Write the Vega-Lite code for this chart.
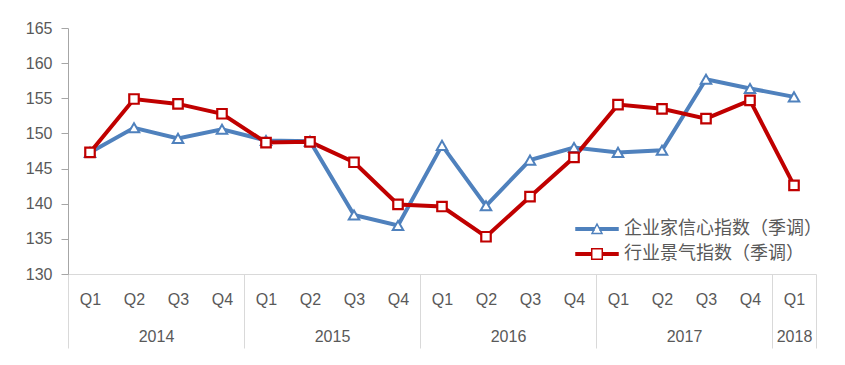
{
  "$schema": "https://vega.github.io/schema/vega-lite/v6.json",
  "width": 748,
  "height": 246,
  "autosize": "none",
  "padding": {"left": 68, "top": 28, "right": 29, "bottom": 91},
  "background": "white",
  "config": {"view": {"stroke": null}, "font": "Liberation Sans"},
  "data": {
    "values": [
      {"i": 0, "s": "企业家信心指数（季调）", "v": 147.3},
      {"i": 1, "s": "企业家信心指数（季调）", "v": 150.8},
      {"i": 2, "s": "企业家信心指数（季调）", "v": 149.3},
      {"i": 3, "s": "企业家信心指数（季调）", "v": 150.6},
      {"i": 4, "s": "企业家信心指数（季调）", "v": 149.0},
      {"i": 5, "s": "企业家信心指数（季调）", "v": 148.9},
      {"i": 6, "s": "企业家信心指数（季调）", "v": 138.4},
      {"i": 7, "s": "企业家信心指数（季调）", "v": 136.9},
      {"i": 8, "s": "企业家信心指数（季调）", "v": 148.3},
      {"i": 9, "s": "企业家信心指数（季调）", "v": 139.7},
      {"i": 10, "s": "企业家信心指数（季调）", "v": 146.2},
      {"i": 11, "s": "企业家信心指数（季调）", "v": 148.0},
      {"i": 12, "s": "企业家信心指数（季调）", "v": 147.3},
      {"i": 13, "s": "企业家信心指数（季调）", "v": 147.6},
      {"i": 14, "s": "企业家信心指数（季调）", "v": 157.7},
      {"i": 15, "s": "企业家信心指数（季调）", "v": 156.4},
      {"i": 16, "s": "企业家信心指数（季调）", "v": 155.2},
      {"i": 0, "s": "行业景气指数（季调）", "v": 147.3},
      {"i": 1, "s": "行业景气指数（季调）", "v": 154.9},
      {"i": 2, "s": "行业景气指数（季调）", "v": 154.2},
      {"i": 3, "s": "行业景气指数（季调）", "v": 152.8},
      {"i": 4, "s": "行业景气指数（季调）", "v": 148.7},
      {"i": 5, "s": "行业景气指数（季调）", "v": 148.8},
      {"i": 6, "s": "行业景气指数（季调）", "v": 145.9},
      {"i": 7, "s": "行业景气指数（季调）", "v": 139.9},
      {"i": 8, "s": "行业景气指数（季调）", "v": 139.6},
      {"i": 9, "s": "行业景气指数（季调）", "v": 135.3},
      {"i": 10, "s": "行业景气指数（季调）", "v": 141.0},
      {"i": 11, "s": "行业景气指数（季调）", "v": 146.6},
      {"i": 12, "s": "行业景气指数（季调）", "v": 154.1},
      {"i": 13, "s": "行业景气指数（季调）", "v": 153.5},
      {"i": 14, "s": "行业景气指数（季调）", "v": 152.1},
      {"i": 15, "s": "行业景气指数（季调）", "v": 154.7},
      {"i": 16, "s": "行业景气指数（季调）", "v": 142.6}
    ]
  },
  "encoding": {
    "y": {
      "field": "v",
      "type": "quantitative",
      "scale": {"domain": [130, 165], "nice": false, "zero": false},
      "axis": {
        "values": [130, 135, 140, 145, 150, 155, 160, 165],
        "grid": false,
        "domainColor": "#a6a6a6",
        "tickColor": "#a6a6a6",
        "tickSize": 7,
        "labelPadding": 9,
        "labelFont": "Liberation Sans",
        "labelFontSize": 16,
        "labelColor": "#595959",
        "title": null
      }
    }
  },
  "layer": [
    {
      "mark": {"type": "line", "strokeWidth": 4},
      "encoding": {
        "x": {
          "field": "i",
          "type": "quantitative",
          "scale": {"domain": [-0.5, 16.5], "nice": false, "zero": false},
          "axis": {
            "orient": "bottom",
            "values": [0, 1, 2, 3, 4, 5, 6, 7, 8, 9, 10, 11, 12, 13, 14, 15, 16],
            "labelExpr": "'Q' + (datum.value % 4 + 1)",
            "ticks": false,
            "grid": false,
            "domainColor": "#d9d9d9",
            "domainWidth": 1,
            "labelPadding": 17,
            "labelFont": "Liberation Sans",
            "labelFontSize": 16,
            "labelColor": "#595959",
            "labelFlush": false,
            "labelOverlap": false,
            "title": null
          }
        },
        "color": {
          "field": "s",
          "type": "nominal",
          "scale": {"domain": ["企业家信心指数（季调）", "行业景气指数（季调）"], "range": ["#4F81BD", "#C00000"]},
          "legend": {
            "orient": "none",
            "legendX": 505,
            "legendY": 192,
            "title": null,
            "padding": 0,
            "labelFont": "Noto Sans CJK SC",
            "labelFontSize": 18,
            "labelColor": "#595959",
            "labelLimit": 400,
            "labelOffset": 33,
            "symbolSize": 144,
            "symbolStrokeWidth": 1.5,
            "rowPadding": 7,
            "encode": {
              "symbols": {
                "update": {
                  "shape": {"signal": "datum.value === '企业家信心指数（季调）' ? 'M-1,-0.21H2V0.21H-1Z M3,-0.21H6V0.21H3Z M2.5,-0.83L3.33,0.75L1.67,0.75Z M2.5,-0.83L1.67,0.75L3.33,0.75Z' : 'M-1,-0.21H1.62V0.21H-1Z M3.38,-0.21H6V0.21H3.38Z M1.62,-0.88H3.38V0.88H1.62Z M1.62,-0.88V0.88H3.38V-0.88Z'"},
                  "fill": {"scale": "color", "field": "value"},
                  "stroke": {"scale": "color", "field": "value"},
                  "strokeWidth": {"value": 1.5},
                  "size": {"value": 144},
                  "opacity": {"value": 1}
                }
              }
            }
          }
        }
      }
    },
    {
      "transform": [{"filter": "datum.s === '企业家信心指数（季调）'"}],
      "mark": {"type": "point", "shape": "triangle-up", "filled": true, "fill": "white", "stroke": "#4F81BD", "strokeWidth": 2, "opacity": 1, "size": 110},
      "encoding": {
        "x": {
          "field": "i",
          "type": "quantitative",
          "scale": {"domain": [-0.5, 16.5], "nice": false, "zero": false},
          "axis": {
            "orient": "bottom",
            "values": [-0.5, 1.5, 3.5, 5.5, 7.5, 9.5, 11.5, 13.5, 15.5, 16, 16.5],
            "labelExpr": "datum.value == 1.5 ? '2014' : datum.value == 5.5 ? '2015' : datum.value == 9.5 ? '2016' : datum.value == 13.5 ? '2017' : datum.value == 16 ? '2018' : ''",
            "domain": false,
            "grid": false,
            "tickSize": 74,
            "tickColor": "#d9d9d9",
            "tickOpacity": {"condition": {"test": "(datum.value + 0.5) % 4 == 0 || datum.value == 16.5", "value": 1}, "value": 0},
            "labelPadding": -20,
            "labelFont": "Liberation Sans",
            "labelFontSize": 16,
            "labelColor": "#595959",
            "labelFlush": false,
            "labelOverlap": false,
            "title": null
          }
        }
      }
    },
    {
      "transform": [{"filter": "datum.s === '行业景气指数（季调）'"}],
      "mark": {"type": "point", "shape": "square", "filled": true, "fill": "white", "stroke": "#C00000", "strokeWidth": 2.2, "opacity": 1, "size": 90},
      "encoding": {
        "x": {
          "field": "i",
          "type": "quantitative",
          "scale": {"domain": [-0.5, 16.5], "nice": false, "zero": false},
          "axis": null
        }
      }
    }
  ],
  "resolve": {"axis": {"x": "independent"}}
}
